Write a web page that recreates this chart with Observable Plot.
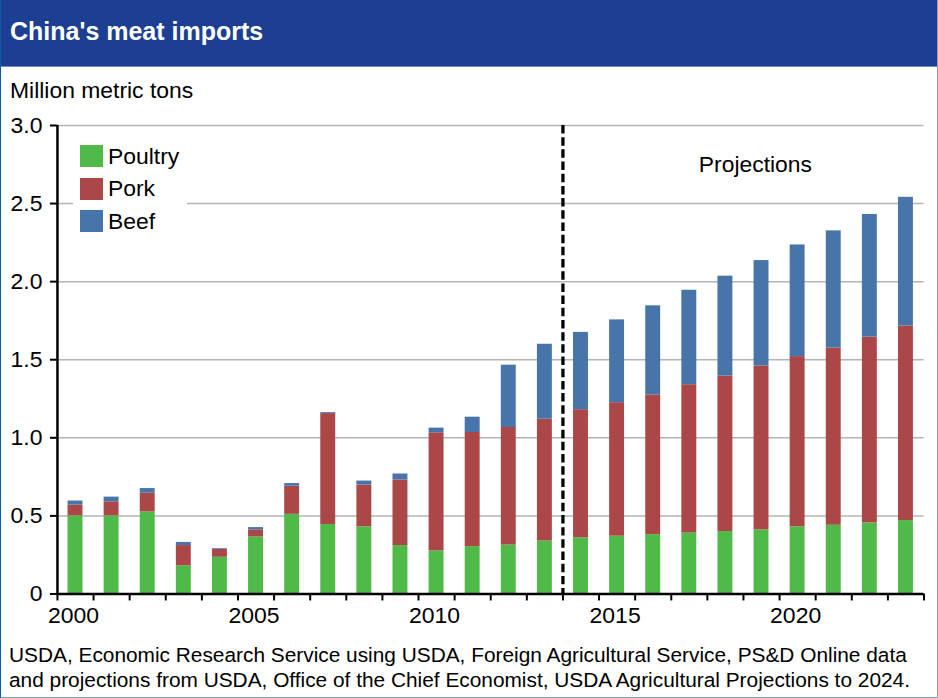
<!DOCTYPE html>
<html><head><meta charset="utf-8">
<script src="https://cdn.jsdelivr.net/npm/d3@7"></script>
<script src="https://cdn.jsdelivr.net/npm/@observablehq/plot@0.6"></script>
<style>
html,body{margin:0;padding:0;background:#fff;}
#page{position:relative;width:938px;height:698px;overflow:hidden;font-family:"Liberation Sans",Arial,sans-serif;color:#000;box-sizing:border-box;border-left:1px solid #0b5aa6;border-right:1px solid #7f9fc4;border-bottom:1px solid #7f9fc4;}
#head{position:absolute;left:0;top:0;width:100%;height:66px;background:#1c3f94;border-bottom:1px solid #6f8cc0;color:#fff;font-weight:bold;font-size:25px;line-height:63px;text-indent:9px;}
#unit{position:absolute;left:9px;top:78px;font-size:22.9px;line-height:24px;}
#chart{position:absolute;left:-1px;top:100px;}
#chart svg{display:block;}
#legend{position:absolute;left:72px;top:140px;width:114px;background:#fff;padding:0;font-size:22.9px;}
#legend div{display:flex;align-items:center;height:32.5px;}
#legend i{display:block;width:23px;height:22px;margin:0 5px 0 7px;}
#foot{position:absolute;left:8px;top:642px;font-size:20.85px;line-height:25px;white-space:nowrap;}
</style></head><body>
<div id="page">
<div id="head">China's meat imports</div>
<div id="unit">Million metric tons</div>
<div id="chart"></div>
<div id="legend"></div>
<div id="foot">USDA, Economic Research Service using USDA, Foreign Agricultural Service, PS&amp;D Online data<br>and projections from USDA, Office of the Chief Economist, USDA Agricultural Projections to 2024.</div>
</div>
<script>
const years = [2000,2001,2002,2003,2004,2005,2006,2007,2008,2009,2010,2011,2012,2013,2014,2015,2016,2017,2018,2019,2020,2021,2022,2023];
const poultry = [.50,.50,.525,.18,.235,.365,.51,.445,.43,.31,.275,.303,.313,.339,.36,.37,.38,.39,.40,.41,.43,.44,.455,.47];
const pork = [.07,.09,.12,.13,.05,.045,.18,.71,.267,.419,.757,.731,.753,.78,.82,.855,.895,.95,.995,1.05,1.09,1.135,1.19,1.245];
const beef = [.025,.03,.03,.02,.005,.015,.017,.006,.026,.039,.03,.098,.399,.48,.495,.53,.57,.605,.64,.675,.715,.75,.785,.825];
const seriesNames = ["Poultry","Pork","Beef"];
const seriesColors = ["#4fba48","#ab4746","#4775aa"];
const yTicks = [0,.5,1,1.5,2,2.5,3];
const labelYears = [2000,2005,2010,2015,2020];
const projectionStart = 2014;
const rows = seriesNames.flatMap((s,k)=>years.map((y,i)=>({year:y,next:y+1,series:s,value:[poultry,pork,beef][k][i]})));
const edges = d3.range(2000,2025);
const chart = Plot.plot({
  width:938,height:530,marginLeft:57,marginRight:13.5,marginTop:25,marginBottom:36,
  style:{fontFamily:'"Liberation Sans",Arial,sans-serif',fontSize:"23px",color:"#000",background:"transparent"},
  x:{type:"linear",domain:[2000,2024],label:null},
  y:{domain:[0,3],label:null},
  color:{domain:seriesNames,range:seriesColors},
  marks:[
    Plot.ruleY(yTicks.filter(d=>d>0),{stroke:"#b4b4b4",strokeWidth:1.5}),
    Plot.rectY(rows,Plot.stackY({x1:"year",x2:"next",y:"value",fill:"series",insetLeft:10.6,insetRight:10.6,order:seriesNames})),
    Plot.ruleX([projectionStart],{stroke:"#000",strokeWidth:3.3,strokeDasharray:"8.5,3.7"}),
    Plot.text(["Projections"],{x:[2019.33],y:[2.75],text:d=>d,fontSize:22.9,fill:"#000"}),
    Plot.axisY({ticks:yTicks,tickFormat:d=>d===0?"0":d3.format(".1f")(d),tickSize:7,tickPadding:8,stroke:"#000",strokeWidth:2,label:null,fontSize:23}),
    Plot.axisX({ticks:edges,tickFormat:()=>"",tickSize:7,stroke:"#000",strokeWidth:2,label:null}),
    Plot.axisX({ticks:labelYears.map(y=>y+.5),tickFormat:d=>String(Math.floor(d)),tickSize:0,tickPadding:13,dx:-2,label:null,fontSize:23}),
    Plot.ruleX([2000],{stroke:"#000",strokeWidth:2.5}),
    Plot.ruleY([0],{stroke:"#000",strokeWidth:2.5})
  ]
});
document.getElementById("chart").appendChild(chart);
const lg = d3.select("#legend");
seriesNames.slice().forEach((s,i)=>{
  const r = lg.append("div");
  r.append("i").style("background",seriesColors[i]);
  r.append("span").text(s);
});
</script>
</body></html>
